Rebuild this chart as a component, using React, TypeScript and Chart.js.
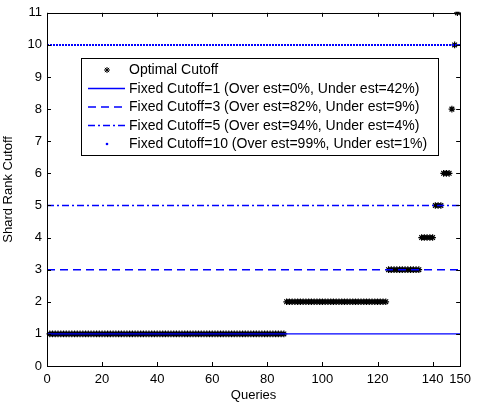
import React, { useEffect, useRef } from "react";
import { Chart, registerables } from "chart.js";
Chart.register(...registerables);

// Optimal shard-rank cutoff for each query (queries 1..149, sorted)
const optimalCutoff: number[] = [
  1, 1, 1, 1, 1, 1, 1, 1, 1, 1, 1, 1, 1, 1, 1, 1, 1, 1, 1, 1,
  1, 1, 1, 1, 1, 1, 1, 1, 1, 1, 1, 1, 1, 1, 1, 1, 1, 1, 1, 1,
  1, 1, 1, 1, 1, 1, 1, 1, 1, 1, 1, 1, 1, 1, 1, 1, 1, 1, 1, 1,
  1, 1, 1, 1, 1, 1, 1, 1, 1, 1, 1, 1, 1, 1, 1, 1, 1, 1, 1, 1,
  1, 1, 1, 1, 1, 1,
  2, 2, 2, 2, 2, 2, 2, 2, 2, 2, 2, 2, 2, 2, 2, 2, 2, 2, 2, 2,
  2, 2, 2, 2, 2, 2, 2, 2, 2, 2, 2, 2, 2, 2, 2, 2, 2,
  3, 3, 3, 3, 3, 3, 3, 3, 3, 3, 3, 3,
  4, 4, 4, 4, 4,
  5, 5, 5,
  6, 6, 6,
  8,
  10,
  11,
];

const fixedCutoffs: number[] = [1, 3, 5, 10];
const seriesLabels: string[] = [
  "Optimal Cutoff",
  "Fixed Cutoff=1 (Over est=0%, Under est=42%)",
  "Fixed Cutoff=3 (Over est=82%, Under est=9%)",
  "Fixed Cutoff=5 (Over est=94%, Under est=4%)",
  "Fixed Cutoff=10 (Over est=99%, Under est=1%)",
];
const xTicks: number[] = [0, 20, 40, 60, 80, 100, 120, 140, 150];
const yTicks: number[] = [0, 1, 2, 3, 4, 5, 6, 7, 8, 9, 10, 11];
const xRange: number[] = [0, 150];

const FONT = "'Liberation Sans', Arial, Helvetica, sans-serif";
const BLUE = "rgb(0,0,255)";
const dashes: number[][] = [[], [8, 5], [7, 3, 2, 3], [2, 1]];
const widths: number[] = [1.3, 1.5, 1.5, 2];

function drawStar(ctx: CanvasRenderingContext2D, x: number, y: number, r: number) {
  ctx.save();
  ctx.strokeStyle = "#000";
  ctx.lineWidth = 1;
  ctx.beginPath();
  for (let k = 0; k < 4; k++) {
    const a = (k * Math.PI) / 4;
    ctx.moveTo(x - r * Math.cos(a), y - r * Math.sin(a));
    ctx.lineTo(x + r * Math.cos(a), y + r * Math.sin(a));
  }
  ctx.stroke();
  ctx.restore();
}

const boxPlugin = {
  id: "matlabBox",
  afterDraw(chart: any) {
    const ctx = chart.ctx as CanvasRenderingContext2D;
    const { left, top, right, bottom } = chart.chartArea;
    ctx.save();
    ctx.strokeStyle = "#000";
    ctx.lineWidth = 1;
    ctx.strokeRect(Math.round(left) + 0.5, Math.round(top) + 0.5, Math.round(right - left), Math.round(bottom - top));
    const tl = 4;
    ctx.beginPath();
    for (const t of chart.scales.x.ticks) {
      const px = Math.round(chart.scales.x.getPixelForValue(t.value)) + 0.5;
      ctx.moveTo(px, bottom);
      ctx.lineTo(px, bottom - tl);
      ctx.moveTo(px, top);
      ctx.lineTo(px, top + tl);
    }
    for (const t of chart.scales.y.ticks) {
      const py = Math.round(chart.scales.y.getPixelForValue(t.value)) + 0.5;
      ctx.moveTo(left, py);
      ctx.lineTo(left + tl, py);
      ctx.moveTo(right, py);
      ctx.lineTo(right - tl, py);
    }
    ctx.stroke();

    // legend box
    const lx = 81.5, ly = 58.5, lw = 357, lh = 97;
    ctx.fillStyle = "#fff";
    ctx.fillRect(lx, ly, lw, lh);
    ctx.strokeStyle = "#000";
    ctx.lineWidth = 1;
    ctx.strokeRect(lx, ly, lw, lh);
    const rowY = [70, 88.5, 107, 125.5, 144];
    ctx.font = `14px ${FONT}`;
    ctx.textBaseline = "middle";
    ctx.textAlign = "left";
    for (let i = 0; i < seriesLabels.length; i++) {
      const y = rowY[i];
      if (i === 0) {
        drawStar(ctx, 107, y, 3);
      } else if (i === 4) {
        ctx.fillStyle = BLUE;
        ctx.beginPath();
        ctx.arc(107, y, 1.3, 0, Math.PI * 2);
        ctx.fill();
      } else {
        ctx.strokeStyle = BLUE;
        ctx.lineWidth = 1.3;
        ctx.setLineDash(dashes[i - 1]);
        ctx.beginPath();
        ctx.moveTo(88, y);
        ctx.lineTo(125, y);
        ctx.stroke();
        ctx.setLineDash([]);
      }
      ctx.fillStyle = "#000";
      ctx.fillText(seriesLabels[i], 129, y + 0.5);
    }
    ctx.restore();
  },
};

export default function App() {
  const ref = useRef<HTMLCanvasElement>(null);
  useEffect(() => {
    document.body.style.margin = "0";
    const canvas = ref.current!;
    const datasets: any[] = [
      {
        label: seriesLabels[0],
        data: optimalCutoff.map((v, i) => ({ x: i + 1, y: v })),
        showLine: false,
        pointStyle: "star",
        pointRadius: 3.3,
        pointBorderColor: "#000",
        pointBackgroundColor: "#000",
        pointBorderWidth: 1.2,
        order: 10,
        clip: 1,
      },
    ];
    fixedCutoffs.forEach((c, i) => {
      datasets.push({
        label: seriesLabels[i + 1],
        data: [
          { x: xRange[0], y: c },
          { x: xRange[1], y: c },
        ],
        showLine: true,
        borderColor: BLUE,
        borderWidth: widths[i],
        borderDash: dashes[i],
        borderCapStyle: "butt",
        pointRadius: 0,
        order: 0,
      });
    });
    const chart = new Chart(canvas, {
      type: "scatter",
      data: { datasets },
      options: {
        animation: false,
        responsive: false,
        events: [],
        layout: { padding: { top: 10, right: 10, left: 0, bottom: 0 } },
        plugins: { legend: { display: false }, tooltip: { enabled: false } },
        scales: {
          x: {
            type: "linear",
            min: xRange[0],
            max: xRange[1],
            grid: { display: false, drawTicks: false },
            border: { display: false },
            afterBuildTicks: (s: any) => {
              s.ticks = xTicks.map((v) => ({ value: v }));
            },
            afterFit: (s: any) => {
              s.height = 36;
            },
            ticks: {
              color: "#000",
              font: { family: FONT, size: 13 },
              padding: 6,
              maxRotation: 0,
              autoSkip: false,
            },
            title: {
              display: true,
              text: "Queries",
              color: "#000",
              font: { family: FONT, size: 13 },
              padding: { top: 0, bottom: -1 },
            },
          },
          y: {
            type: "linear",
            min: 0,
            max: 11,
            grid: { display: false, drawTicks: false },
            border: { display: false },
            afterBuildTicks: (s: any) => {
              s.ticks = yTicks.map((v) => ({ value: v }));
            },
            afterFit: (s: any) => {
              s.width = 47;
            },
            ticks: {
              color: "#000",
              font: { family: FONT, size: 13 },
              padding: 5,
              autoSkip: false,
            },
            title: {
              display: true,
              text: "Shard Rank Cutoff",
              color: "#000",
              font: { family: FONT, size: 13 },
              padding: { top: 1, bottom: 0 },
            },
          },
        },
      },
      plugins: [boxPlugin],
    });
    return () => chart.destroy();
  }, []);
  return <canvas ref={ref} width={477} height={402} style={{ display: "block" }} />;
}
